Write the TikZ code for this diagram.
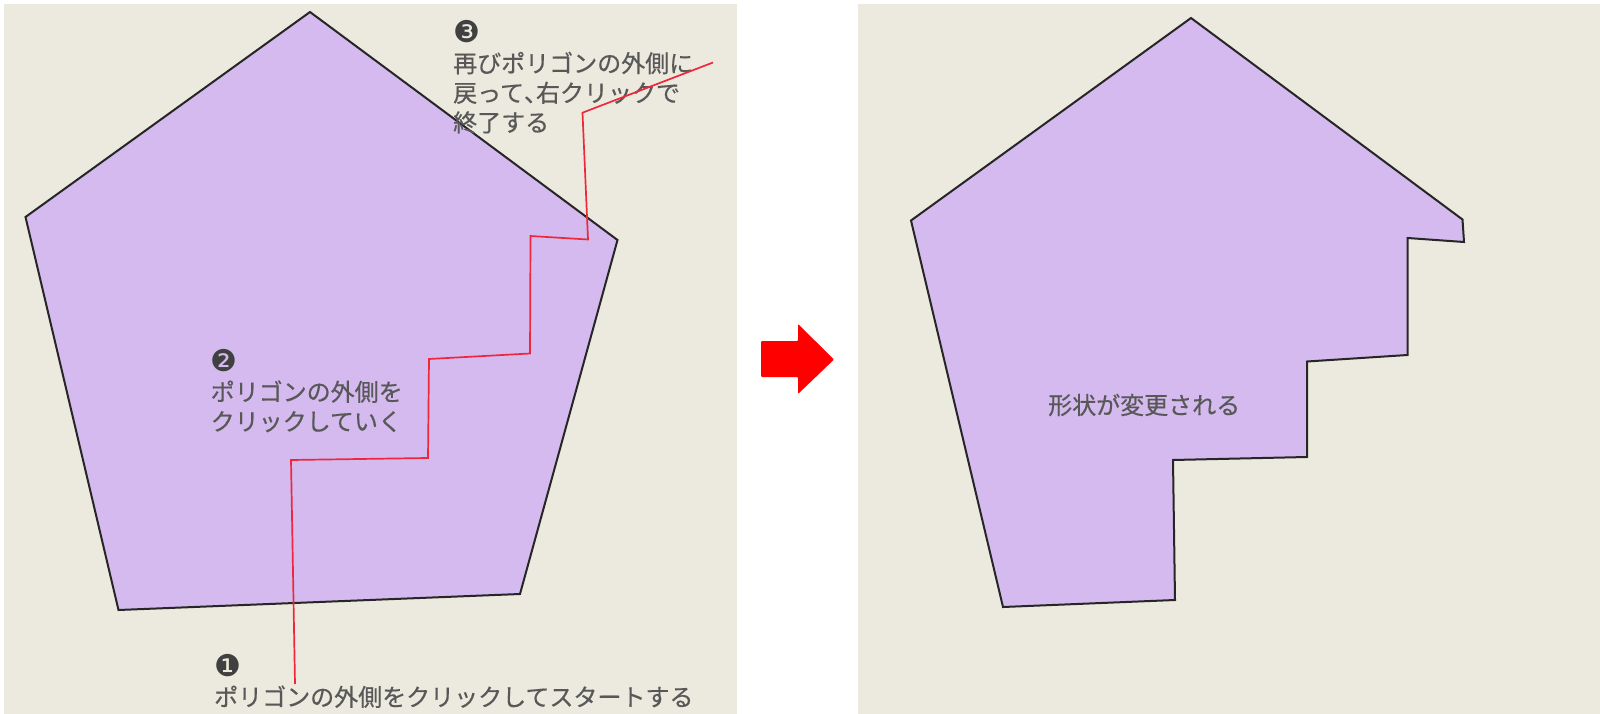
\documentclass[tikz,border=0pt]{standalone}
\usepackage{fontspec}
\newfontfamily\jpfont[FakeBold=0.5]{Noto Sans CJK JP}
\newfontfamily\numfont{DejaVu Sans}
\definecolor{bgbeige}{RGB}{236,234,222}
\definecolor{lavender}{RGB}{212,186,238}
\definecolor{txtgray}{RGB}{88,88,88}
\definecolor{numgray}{RGB}{64,64,64}
\definecolor{clickred}{RGB}{238,40,58}
\newcommand{\stepnum}[1]{{\color{numgray}\numfont\fontsize{30}{29.6}\selectfont #1}}
\newcommand{\halfcomma}{{\addfontfeature{RawFeature=+halt}、}}

\begin{document}
\begin{tikzpicture}[x=1pt,y=-1pt,
  polyshape/.style={fill=lavender, draw=black!85, line width=2pt},
  note/.style={anchor=base west, align=left, inner sep=0pt, text=txtgray,
    font=\jpfont\fontsize{24}{29.6}\selectfont},
  click/.style={draw=clickred, line width=1.7pt}]
\useasboundingbox (0,0) rectangle (1600,714);
\fill[white] (0,0) rectangle (1600,714);
\fill[bgbeige] (4,4) rectangle (737,714);
\fill[bgbeige] (858,4) rectangle (1600,714);

\filldraw[polyshape] (310,12) -- (617.5,240) -- (520,594) -- (118.5,610) -- (25.5,217) -- cycle;

\node[note] (start) at (214,706) {\stepnum{❶}\\ポリゴンの外側をクリックしてスタートする};
\node[note] (middle) at (210.5,430.5) {\stepnum{❷}\\ポリゴンの外側を\\クリックしていく};
\node[note] (finish) at (453,131.5) {\stepnum{❸}\\再びポリゴンの外側に\\戻って\halfcomma 右クリックで\\終了する};

\draw[click] (295,684) -- (291,460) -- (428,458) -- (429,359) -- (530,353.5)
  -- (530.5,236) -- (588,239.5) -- (582.5,112.7) -- (713,62.5);

\fill[red, rounded corners=1pt] (761,341) -- (798,341) -- (798,324) -- (834,359.5)
  -- (798,394) -- (798,377) -- (761,377) -- cycle;

\filldraw[polyshape] (1191,18) -- (1462.5,219.5) -- (1464,242) -- (1407.5,238) -- (1407.5,355)
  -- (1307,361.5) -- (1307,457) -- (1173,460) -- (1175,600) -- (1003,607) -- (911,220.5) -- cycle;
\node[note, anchor=west] (result) at (1048,405) {形状が変更される};
\end{tikzpicture}
\end{document}
